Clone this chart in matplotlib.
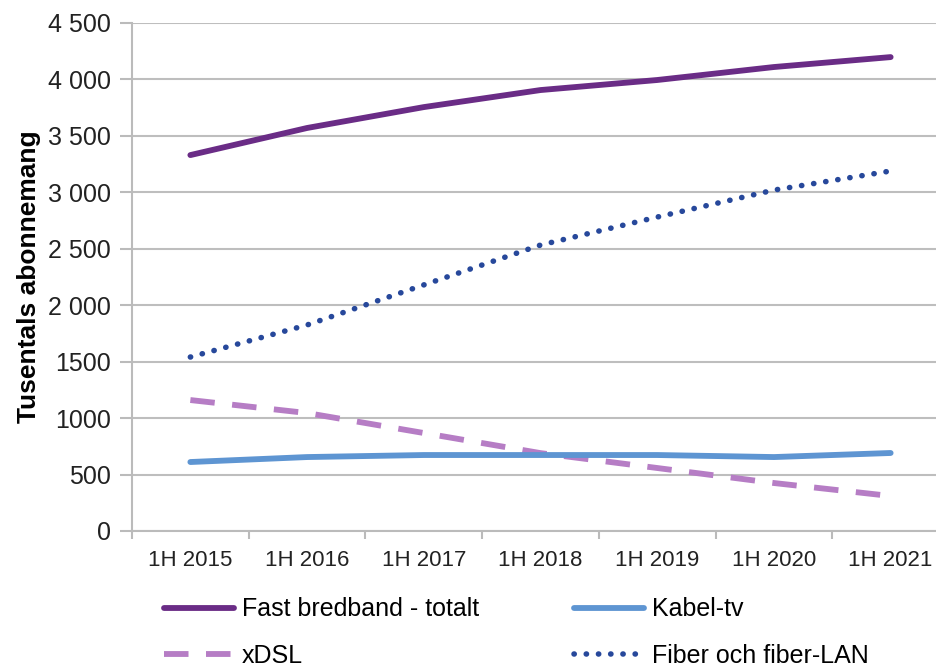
import matplotlib.pyplot as plt
import numpy as np

plt.rcParams['font.family'] = ['Liberation Sans', 'DejaVu Sans']

# data (tusentals abonnemang)
periods = ['1H 2015', '1H 2016', '1H 2017', '1H 2018', '1H 2019', '1H 2020', '1H 2021']
fast_totalt = [3330, 3570, 3755, 3906, 3995, 4110, 4198]
kabel_tv = [611, 655, 673, 673, 673, 655, 691]
xdsl = [1160, 1045, 868, 690, 558, 425, 310]
fiber = [1541, 1825, 2180, 2533, 2781, 3020, 3189]

yticks = [0, 500, 1000, 1500, 2000, 2500, 3000, 3500, 4000, 4500]
ytick_labels = ['0', '500', '1000', '1500', '2 000', '2 500', '3 000', '3 500', '4 000', '4 500']

fig = plt.figure(figsize=(9.36, 6.68), dpi=100)
ax = fig.add_axes([132/936, 1 - 531/668, 817/936, 508/668])

x = np.arange(len(periods))
ax.plot(x, fast_totalt, color='#6A2C86', lw=4.2, solid_capstyle='round', label='Fast bredband - totalt')
ax.plot(x, xdsl, color='#B67DC5', lw=4.2, linestyle=(0, (4.2, 3.0)), label='xDSL')
ax.plot(x, kabel_tv, color='#5E95D2', lw=4.2, solid_capstyle='round', label='Kabel-tv')
ax.plot(x, fiber, color='#27489B', lw=4.0, linestyle=(0, (0.05, 2.15)), dash_capstyle='round',
        label='Fiber och fiber-LAN')

ax.set_xlim(-0.5, len(periods) - 0.5)
ax.set_ylim(0, 4500)
ax.set_yticks(yticks)
ax.set_yticklabels(ytick_labels)
ax.set_xticks(x)
ax.set_xticklabels(periods)
ax.set_xticks(np.arange(len(periods) + 1) - 0.5, minor=True)
ax.tick_params(axis='x', which='major', length=0, pad=14, labelsize=16, colors='#222222')
ax.tick_params(axis='x', which='minor', length=6, width=1.5, color='#BBBBBB')
ax.tick_params(axis='y', length=9, width=1.5, color='#BBBBBB', pad=6, labelsize=18, labelcolor='#222222')

ax.grid(axis='y', color='#BEBEBE', lw=1.5)
ax.set_axisbelow(True)
for s in ['top', 'right']:
    ax.spines[s].set_visible(False)
for s in ['left', 'bottom']:
    ax.spines[s].set_color('#BBBBBB')
    ax.spines[s].set_linewidth(1.5)

ax.set_ylabel('Tusentals abonnemang', fontsize=19, fontweight='bold', labelpad=5)

leg = fig.legend(loc='upper left', bbox_to_anchor=(141/936, 1 - 575/668), ncol=2, frameon=False,
                 fontsize=18, handlelength=2.8, handletextpad=0.32, columnspacing=3.8, labelspacing=0.9)

fig.savefig('out.png', dpi=100)
